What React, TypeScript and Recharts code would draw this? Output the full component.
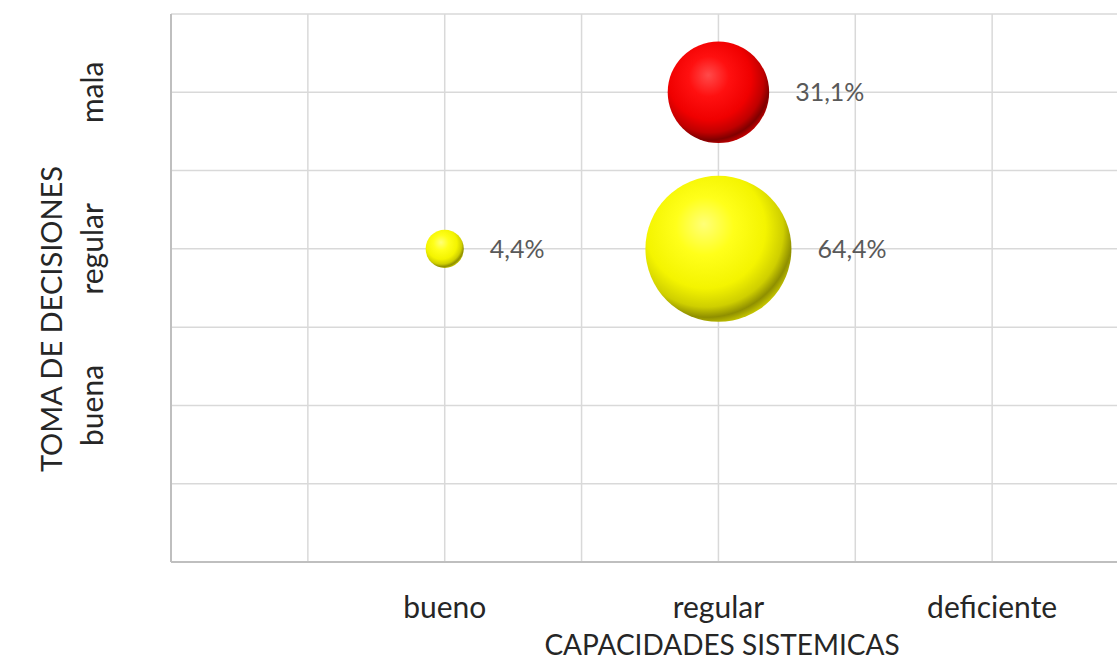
import React from 'react';
import { ScatterChart, Scatter, XAxis, YAxis, ZAxis, CartesianGrid, Label } from 'recharts';

// Category labels of both axes (low to high)
const xCategories = ['bueno', 'regular', 'deficiente'];
const yCategories = ['buena', 'regular', 'mala'];

// Bubbles of the "regular" group (yellow)
const regularX = ['bueno', 'regular'];
const regularY = ['regular', 'regular'];
const regularPct = [4.4, 64.4];

// Bubbles of the "mala" group (red)
const malaX = ['regular'];
const malaY = ['mala'];
const malaPct = [31.1];

const xTitle = 'CAPACIDADES SISTEMICAS';
const yTitle = 'TOMA DE DECISIONES';

const FONT = 'Lato, "Open Sans", "Liberation Sans", sans-serif';
const AXIS_TICKS = [0, 1, 2, 3, 4, 5, 6, 7];

const xPos = (c: string) => (xCategories.indexOf(c) + 1) * 2;
const yPos = (c: string) => (yCategories.indexOf(c) + 1) * 2;

const build = (xs: string[], ys: string[], zs: number[]) =>
  xs.map((c, i) => ({ x: xPos(c), y: yPos(ys[i]), z: zs[i] }));

const regularData = build(regularX, regularY, regularPct);
const malaData = build(malaX, malaY, malaPct);
const maxPct = Math.max(...regularPct, ...malaPct);

const fmt = (v: number) => v.toFixed(1).replace('.', ',') + '%';

const makeBubble = (gradId: string) => (props: any) => {
  const { cx, cy, payload } = props;
  const r = props.width ? props.width / 2 : Math.sqrt((props.size || 0) / Math.PI);
  return (
    <g>
      <circle cx={cx} cy={cy} r={r} fill={`url(#${gradId})`} />
      <text
        x={cx + r + 26}
        y={cy}
        dy="0.36em"
        fill="#595959"
        fontSize={25}
        fontFamily={FONT}
      >
        {fmt(payload.z)}
      </text>
    </g>
  );
};

const XTick = (props: any) => {
  const { x, y, payload } = props;
  const v = payload.value;
  if (v % 2 !== 0 || v === 0) return null;
  const label = xCategories[v / 2 - 1];
  if (!label) return null;
  return (
    <text x={x} y={y + 48} textAnchor="middle" fill="#262626" fontSize={30} fontFamily={FONT}>
      {label}
    </text>
  );
};

const YTick = (props: any) => {
  const { x, y, payload } = props;
  const v = payload.value;
  if (v % 2 !== 0 || v === 0) return null;
  const label = yCategories[v / 2 - 1];
  if (!label) return null;
  const bx = x - 60;
  return (
    <text
      x={bx}
      y={y}
      transform={`rotate(-90, ${bx}, ${y})`}
      textAnchor="middle"
      fill="#262626"
      fontSize={30}
      fontFamily={FONT}
    >
      {label}
    </text>
  );
};

const YTitle = (props: any) => {
  const vb = props.viewBox;
  const tx = vb.x + 62;
  const ty = vb.y + vb.height / 2 + 31;
  return (
    <text
      x={tx}
      y={ty}
      transform={`rotate(-90, ${tx}, ${ty})`}
      textAnchor="middle"
      fill="#262626"
      fontSize={29}
      fontFamily={FONT}
    >
      {yTitle}
    </text>
  );
};

const XTitle = (props: any) => {
  const vb = props.viewBox;
  return (
    <text x={vb.x + 551} y={vb.y + 93} textAnchor="middle" fill="#262626" fontSize={28} fontFamily={FONT}>
      {xTitle}
    </text>
  );
};

export default function App() {
  return (
    <div
      style={{
        position: 'absolute',
        left: 0,
        top: 0,
        width: 1117,
        height: 660,
        overflow: 'hidden',
        background: '#ffffff',
      }}
    >
      <ScatterChart width={1140} height={660} margin={{ top: 14, right: 11, bottom: 0, left: 0 }}>
        <defs>
          <radialGradient id="sphereYellow" cx="0.42" cy="0.38" r="0.66" fx="0.4" fy="0.33">
            <stop offset="0" stopColor="#ffff78" />
            <stop offset="0.3" stopColor="#ffff1a" />
            <stop offset="0.62" stopColor="#f4f400" />
            <stop offset="0.8" stopColor="#cfcf00" />
            <stop offset="0.9" stopColor="#8f8f00" />
            <stop offset="1" stopColor="#d8d800" />
          </radialGradient>
          <radialGradient id="sphereRed" cx="0.42" cy="0.38" r="0.66" fx="0.4" fy="0.33">
            <stop offset="0" stopColor="#ff4a4a" />
            <stop offset="0.3" stopColor="#ff1010" />
            <stop offset="0.62" stopColor="#f00000" />
            <stop offset="0.8" stopColor="#c00000" />
            <stop offset="0.9" stopColor="#800000" />
            <stop offset="1" stopColor="#d80000" />
          </radialGradient>
        </defs>
        <CartesianGrid stroke="#d9d9d9" strokeWidth={1.5} />
        <XAxis
          type="number"
          dataKey="x"
          domain={[0, 7]}
          ticks={AXIS_TICKS}
          height={98}
          tickLine={false}
          axisLine={{ stroke: '#bfbfbf', strokeWidth: 2 }}
          tick={<XTick />}
          interval={0}
        >
          <Label content={<XTitle />} />
        </XAxis>
        <YAxis
          type="number"
          dataKey="y"
          domain={[0, 7]}
          ticks={AXIS_TICKS}
          width={171}
          tickLine={false}
          axisLine={{ stroke: '#bfbfbf', strokeWidth: 2 }}
          tick={<YTick />}
          interval={0}
        >
          <Label content={<YTitle />} />
        </YAxis>
        <ZAxis type="number" dataKey="z" domain={[0, maxPct]} range={[0, Math.PI * 73 * 73]} />
        <Scatter
          name="regular"
          data={regularData}
          shape={makeBubble('sphereYellow')}
          isAnimationActive={false}
        />
        <Scatter
          name="mala"
          data={malaData}
          shape={makeBubble('sphereRed')}
          isAnimationActive={false}
        />
      </ScatterChart>
    </div>
  );
}
